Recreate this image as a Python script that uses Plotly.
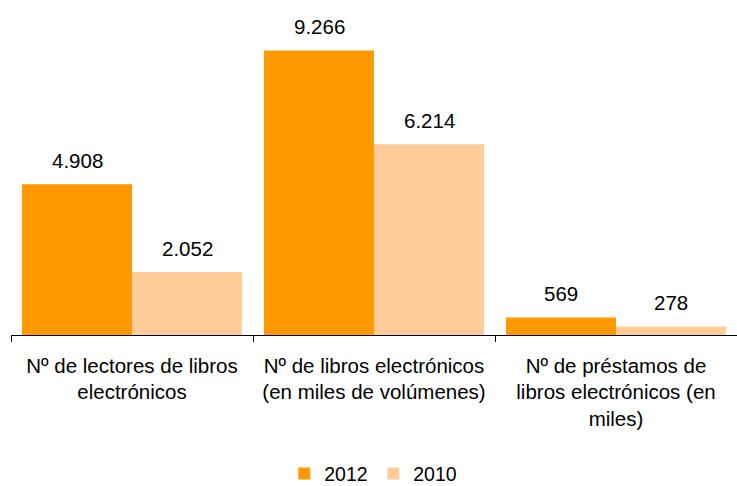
import plotly.graph_objects as go

categories = ["Nº de lectores de libros<br>electrónicos",
              "Nº de libros electrónicos<br>(en miles de volúmenes)",
              "Nº de préstamos de<br>libros electrónicos (en<br>miles)"]
values_2012 = [4908, 9266, 569]
values_2010 = [2052, 6214, 278]
labels_2012 = ["4.908", "9.266", "569"]
labels_2010 = ["2.052", "6.214", "278"]

C2012 = "#FF9900"
C2010 = "#FFCC99"
FONT = dict(family="Liberation Sans, Arial, sans-serif", size=20.5, color="#000000")
LFONT = dict(family="Liberation Sans, Arial, sans-serif", size=19.5, color="#000000")

fig = go.Figure()
fig.add_trace(go.Bar(name="2012", x=categories, y=values_2012, marker=dict(color=C2012, line=dict(width=0))))
fig.add_trace(go.Bar(name="2010", x=categories, y=values_2010, marker=dict(color=C2010, line=dict(width=0))))

for cat, v, t in zip(categories, values_2012, labels_2012):
    fig.add_annotation(x=cat, y=v, text=t, showarrow=False, xshift=-55, yshift=24,
                       yanchor="middle", font=FONT)
for cat, v, t in zip(categories, values_2010, labels_2010):
    fig.add_annotation(x=cat, y=v, text=t, showarrow=False, xshift=55, yshift=24,
                       yanchor="middle", font=FONT)

fig.update_layout(
    width=737, height=486,
    margin=dict(l=11, r=0, t=28, b=151, autoexpand=False),
    plot_bgcolor="white", paper_bgcolor="white",
    barmode="group", bargap=0.09, bargroupgap=0,
    font=FONT,
    showlegend=True,
    legend=dict(orientation="h", x=0.499, xanchor="center", y=-0.452, yanchor="middle",
                font=LFONT, itemwidth=30, entrywidth=44, traceorder="normal"),
    xaxis=dict(showline=True, linecolor="#000000", linewidth=1, ticks="outside",
               tickson="boundaries", ticklen=6, tickcolor="#000000", automargin=False,
               tickfont=FONT, showgrid=False, ticklabelstandoff=12),
    yaxis=dict(range=[0, 10000], visible=False, showgrid=False, zeroline=False),
)

fig.write_html("out.html", config={"displayModeBar": False},
               post_script="document.body.style.margin='0';")
